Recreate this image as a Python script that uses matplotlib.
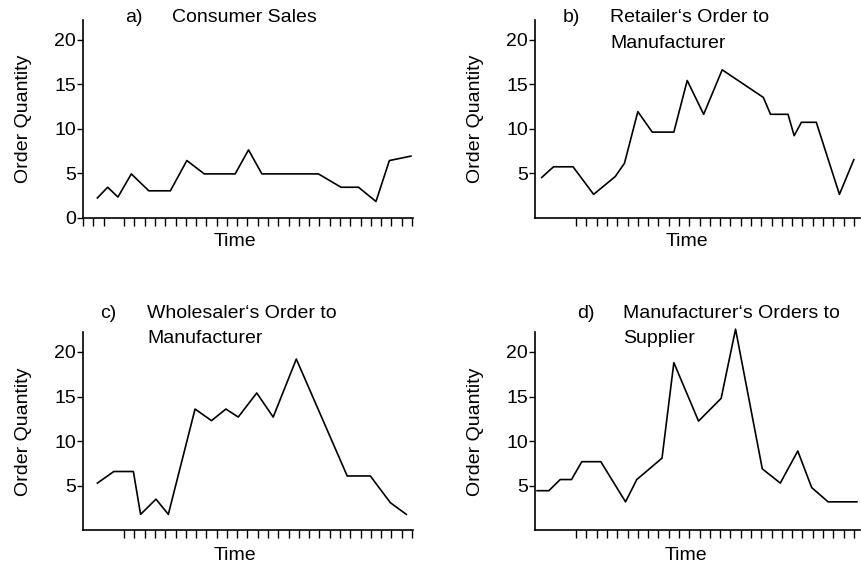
import matplotlib
matplotlib.use("Agg")
import matplotlib.pyplot as plt

plt.rcParams['font.family'] = ['Liberation Sans', 'DejaVu Sans']

# ---- data (time units, order quantity) ----
consumer_t = [1.4, 2.4, 3.4, 4.7, 6.4, 8.5, 10.1, 11.8, 14.8, 16.1, 17.4, 22.9, 25.1, 26.8, 28.5, 29.8, 31.9]
consumer_q = [2.2, 3.4, 2.3, 4.9, 3.0, 3.0, 6.4, 4.9, 4.9, 7.6, 4.9, 4.9, 3.4, 3.4, 1.8, 6.4, 6.9]

retailer_t = [0.65, 1.8, 3.7, 5.7, 7.8, 8.7, 10.0, 11.4, 13.5, 14.8, 16.4, 18.2, 22.2, 22.9, 24.6, 25.2, 25.9, 27.35, 29.6, 31.0]
retailer_q = [4.5, 5.7, 5.7, 2.6, 4.6, 6.1, 11.9, 9.6, 9.6, 15.4, 11.6, 16.6, 13.5, 11.6, 11.6, 9.2, 10.7, 10.7, 2.6, 6.5]

wholesaler_t = [1.4, 3.0, 4.9, 5.6, 7.1, 8.3, 10.9, 12.5, 13.9, 15.1, 16.9, 18.5, 20.75, 25.7, 27.95, 29.9, 31.45]
wholesaler_q = [5.3, 6.6, 6.6, 1.8, 3.5, 1.8, 13.6, 12.3, 13.6, 12.7, 15.4, 12.7, 19.2, 6.1, 6.1, 3.1, 1.8]

manufacturer_t = [0.2, 1.35, 2.45, 3.55, 4.55, 6.4, 8.8, 9.9, 12.35, 13.5, 15.9, 18.1, 19.5, 22.1, 23.85, 25.55, 26.9, 28.5, 31.3]
manufacturer_q = [4.45, 4.45, 5.7, 5.7, 7.7, 7.7, 3.2, 5.7, 8.1, 18.8, 12.25, 14.8, 22.55, 6.9, 5.3, 8.9, 4.8, 3.2, 3.2]

W, H = 861, 565
FS = 14


def px(x, y):
    return x / W, 1 - y / H


fig = plt.figure(figsize=(W / 100, H / 100), dpi=100)

panels = [
    # left, top, right, bottom (px), xmax, data, x ticks, y ticks, letter, title lines, label positions
    dict(box=(83, 20, 413, 217.5), xmax=32.1, t=consumer_t, q=consumer_q,
         xt=[0, 1, 2] + list(range(4, 33)), yt=[0, 5, 10, 15, 20],
         letter=("a)", 125), title=["Consumer Sales"], tx=172, ty=18, ylx=24, tmx=235, tmy=242),
    dict(box=(535, 20, 860, 217.5), xmax=31.6, t=retailer_t, q=retailer_q,
         xt=list(range(4, 32)), yt=[5, 10, 15, 20],
         letter=("b)", 563), title=["Retailer\u2018s Order to", "Manufacturer"], tx=610, ty=18, ylx=475, tmx=687, tmy=242),
    dict(box=(83, 332.3, 413, 530.4), xmax=32.1, t=wholesaler_t, q=wholesaler_q,
         xt=list(range(4, 33)), yt=[5, 10, 15, 20],
         letter=("c)", 100), title=["Wholesaler\u2018s Order to", "Manufacturer"], tx=147, ty=313, ylx=24, tmx=235, tmy=555),
    dict(box=(535, 332.3, 860, 530.4), xmax=31.6, t=manufacturer_t, q=manufacturer_q,
         xt=list(range(4, 32)), yt=[5, 10, 15, 20],
         letter=("d)", 577), title=["Manufacturer\u2018s Orders to", "Supplier"], tx=623, ty=313, ylx=475, tmx=686, tmy=555),
]

for p in panels:
    l, t, r, b = p['box']
    ax = fig.add_axes([l / W, 1 - b / H, (r - l) / W, (b - t) / H])
    ax.plot(p['t'], p['q'], color='black', lw=1.2, clip_on=False)
    ax.set_xlim(0, p['xmax'])
    ax.set_ylim(0, 22.2)
    ax.spines['top'].set_visible(False)
    ax.spines['right'].set_visible(False)
    ax.spines['left'].set_linewidth(1.2)
    ax.spines['bottom'].set_linewidth(1.2)
    ax.set_xticks(p['xt'])
    ax.set_xticklabels([])
    ax.set_yticks(p['yt'])
    ax.set_yticklabels([str(v) for v in p['yt']], fontsize=FS)
    ax.tick_params(axis='x', direction='out', length=6, width=1)
    ax.tick_params(axis='y', direction='out', length=4, width=1, pad=1)
    ax.set_facecolor('none')

    # texts
    mid_y = (t + b) / 2
    fig.text(*px(p['ylx'], mid_y), "Order Quantity", rotation=90, ha='center', va='center', fontsize=FS)
    fig.text(*px(p['tmx'], p['tmy']), "Time", ha='center', va='center', fontsize=FS)
    fig.text(*px(p['letter'][1], p['ty']), p['letter'][0], ha='left', va='center', fontsize=FS)
    for i, line in enumerate(p['title']):
        fig.text(*px(p['tx'], p['ty'] + 25.5 * i), line, ha='left', va='center', fontsize=FS)

fig.savefig("out.png", dpi=100)
